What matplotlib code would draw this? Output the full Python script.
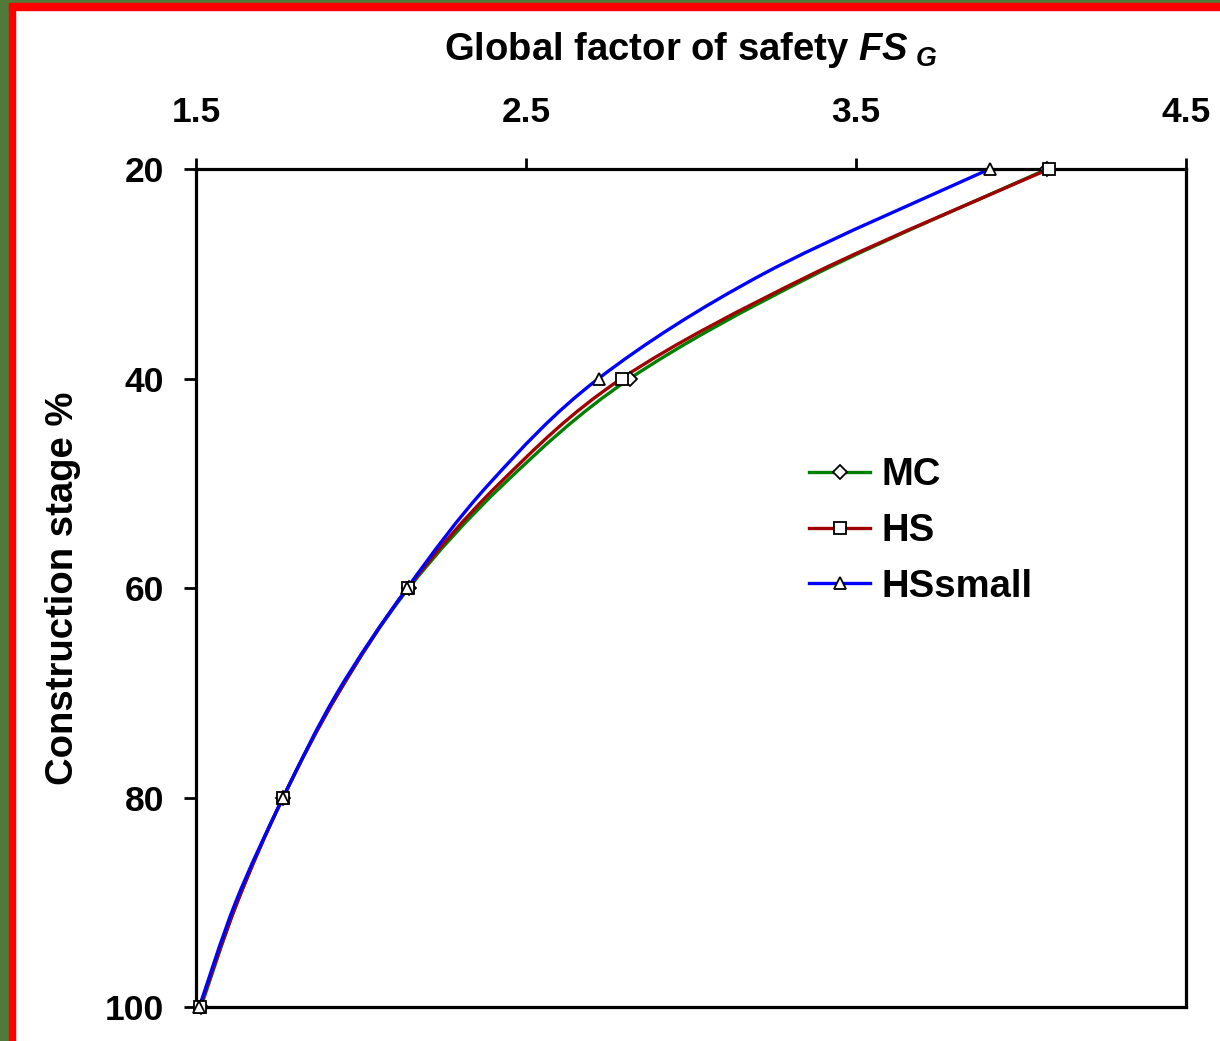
import numpy as np
import matplotlib
matplotlib.use("Agg")
import matplotlib.pyplot as plt
from matplotlib.patches import Rectangle, PathPatch
from matplotlib.path import Path
from matplotlib.lines import Line2D

plt.rcParams['font.family'] = ['Liberation Sans', 'DejaVu Sans']
plt.rcParams['font.weight'] = 'bold'
plt.rcParams['mathtext.fontset'] = 'custom'
plt.rcParams['mathtext.it'] = 'Liberation Sans:italic:bold'
plt.rcParams['mathtext.rm'] = 'Liberation Sans:bold'

# construction stage (%) and global factor of safety
stage = [20, 30, 40, 50, 60, 70, 80, 90, 100]
fs_mc = [4.08, 3.38, 2.815, 2.435, 2.145, 1.932, 1.764, 1.625, 1.515]
fs_hs = [4.085, 3.37, 2.79, 2.42, 2.142, 1.932, 1.764, 1.625, 1.512]
fs_hssmall = [3.905, 3.22, 2.72, 2.39, 2.14, 1.928, 1.764, 1.62, 1.51]

xticks = [1.5, 2.5, 3.5, 4.5]
yticks = [20, 40, 60, 80, 100]


def smooth_path(x, y):
    # Catmull-Rom curve through the points, as cubic Bezier segments
    p = np.column_stack([x, y]).astype(float)
    n = len(p)
    verts = [p[0]]
    codes = [Path.MOVETO]
    for i in range(n - 1):
        p0 = p[i - 1] if i > 0 else p[i]
        p3 = p[i + 2] if i + 2 < n else p[i + 1]
        c1 = p[i] + (p[i + 1] - p0) / 6
        c2 = p[i + 1] - (p3 - p[i]) / 6
        verts += [c1, c2, p[i + 1]]
        codes += [Path.CURVE4] * 3
    return Path(verts, codes)


fig = plt.figure(figsize=(12.2, 10.41), dpi=100)
fig.patch.set_facecolor('white')

# picture frame (green outside, red inside) on the left and top edges
W, H = 1220, 1041
fig.patches.append(Rectangle((0, 0), 9/W, 1, transform=fig.transFigure,
                             color='#4f7a3a', zorder=0))
fig.patches.append(Rectangle((9/W, 0), 6/W, 1 - 3/H, transform=fig.transFigure,
                             color='#ff0000', zorder=0))
fig.patches.append(Rectangle((0, 1 - 3/H), 1, 3/H, transform=fig.transFigure,
                             color='#4f7a3a', zorder=0))
fig.patches.append(Rectangle((9/W, 1 - 10/H), 1, 7/H, transform=fig.transFigure,
                             color='#ff0000', zorder=0))

ax = fig.add_axes([196/W, 1 - 1007/H, 990/W, 838/H])

series = [
    ('MC', fs_mc, '#008000', 'D', 7),
    ('HS', fs_hs, '#a00000', 's', 8.5),
    ('HSsmall', fs_hssmall, '#0000ff', '^', 9),
]
handles = []
for name, vals, col, mk, ms in series:
    ax.add_patch(PathPatch(smooth_path(vals, stage), fc='none', ec=col,
                           lw=2.4, clip_on=False))
    ax.plot(vals[::2], stage[::2], ls='none', marker=mk, ms=ms, mfc='white',
            mec='black', mew=1.3, clip_on=False, zorder=3)
    handles.append(Line2D([], [], color=col, lw=2.4, marker=mk, ms=ms,
                          mfc='white', mec='black', mew=1.3, label=name))

ax.set_xlim(1.5, 4.5)
ax.set_ylim(100, 20)
ax.xaxis.tick_top()
ax.xaxis.set_label_position('top')
ax.set_xticks(xticks)
ax.set_xticklabels([str(v) for v in xticks])
ax.set_yticks(yticks)
ax.tick_params(axis='x', direction='out', length=8, width=2, labelsize=25.5, pad=21)
ax.tick_params(axis='y', direction='out', length=9, width=2, labelsize=25.5, pad=14)
for s in ax.spines.values():
    s.set_linewidth(2.3)

ax.set_xlabel(r'Global factor of safety $FS_{\ G}$', fontsize=27.5,
              fontweight='bold', labelpad=26)
ax.set_ylabel('Construction stage %', fontsize=27.5, fontweight='bold', labelpad=17)

leg = ax.legend(handles=handles, loc='upper left', bbox_to_anchor=(0.600, 0.679),
                frameon=False, fontsize=27.5, handlelength=1.6,
                handletextpad=0.3, labelspacing=0.52, borderpad=0)

fig.savefig('out.png', dpi=100)
